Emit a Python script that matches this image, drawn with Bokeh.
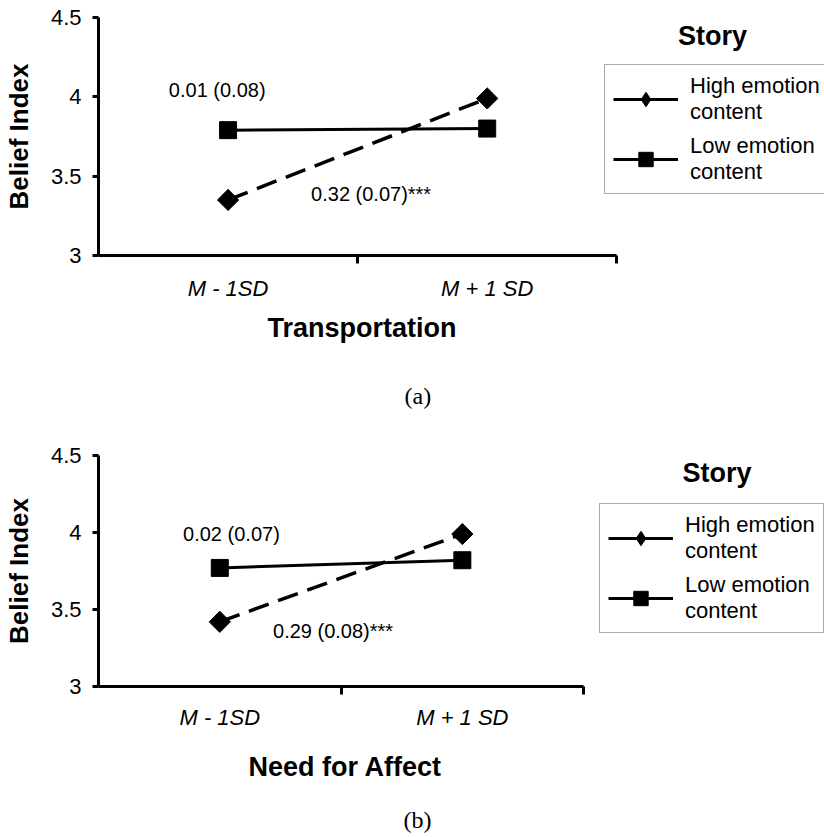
import numpy as np
from bokeh.plotting import figure
from bokeh.layouts import column
from bokeh.models import (ColumnDataSource, FixedTicker, Legend, LegendItem, Label,
                          Range1d, NumeralTickFormatter, Title)
from bokeh.core.properties import value
from bokeh.embed import file_html
from bokeh.resources import INLINE

SANS = "Liberation Sans"
SERIF = "Liberation Serif"

# ---------------- data ----------------
categories = ["M - 1SD", "M + 1 SD"]
series = ["High emotion\ncontent", "Low emotion\ncontent"]
legend_title = "Story"
y_label = "Belief Index"
y_ticks = [3, 3.5, 4, 4.5]

a_x_label = "Transportation"
a_high = [3.35, 3.99]
a_low = [3.79, 3.80]
a_slopes = ["0.01 (0.08)", "0.32 (0.07)***"]
a_slope_x = [0.458, 1.052]
a_slope_y = [4.04, 3.39]
a_caption = "(a)"

b_x_label = "Need for Affect"
b_high = [3.42, 3.99]
b_low = [3.77, 3.82]
b_slopes = ["0.02 (0.07)", "0.29 (0.08)***"]
b_slope_x = [0.548, 0.967]
b_slope_y = [3.99, 3.36]
b_caption = "(b)"

FIG_W = 824
FRAME_LEFT = 97


def panel(high, low, slopes, slope_x, slope_y, x_label, caption, height,
          slot_px, frame_h, b_top, label_standoff, legend_loc, title_xy,
          xt_offset, xt_standoff, cap_offset, cap_standoff):
    n = len(categories)
    xs = [i + 0.5 for i in range(n)]
    b_bottom = height - b_top - frame_h
    x_end = (FIG_W - FRAME_LEFT) / slot_px
    p = figure(width=FIG_W, height=height,
               x_range=Range1d(0, x_end), y_range=Range1d(y_ticks[0], y_ticks[-1]),
               output_backend="svg", toolbar_location=None,
               min_border_left=FRAME_LEFT, min_border_right=0,
               min_border_top=b_top, min_border_bottom=b_bottom)
    p.outline_line_color = None
    p.xgrid.visible = False
    p.ygrid.visible = False
    p.background_fill_color = "white"
    p.border_fill_color = "white"

    # x axis: spans the two category slots
    xa = p.xaxis[0]
    xa.bounds = (0, n)
    xa.ticker = FixedTicker(ticks=xs, minor_ticks=list(range(1, n + 1)))
    xa.major_label_overrides = {x: c for x, c in zip(xs, categories)}
    xa.major_tick_out = 0
    xa.major_tick_in = 0
    xa.minor_tick_out = 8
    xa.minor_tick_in = 0
    xa.minor_tick_line_width = 3
    xa.axis_line_width = 3
    xa.major_label_standoff = label_standoff
    xa.major_label_text_font = SANS
    xa.major_label_text_font_style = "italic"
    xa.major_label_text_font_size = "22px"
    xa.major_label_text_color = "black"

    # y axis
    ya = p.yaxis[0]
    ya.ticker = FixedTicker(ticks=y_ticks)
    ya.formatter = NumeralTickFormatter(format="0.[0]")
    ya.major_tick_out = 6
    ya.major_tick_in = 0
    ya.major_tick_line_width = 3
    ya.minor_tick_out = 0
    ya.minor_tick_in = 0
    ya.axis_line_width = 3
    ya.major_label_standoff = 11
    ya.major_label_text_font = SANS
    ya.major_label_text_font_size = "22px"
    ya.major_label_text_color = "black"
    ya.axis_label = y_label
    ya.axis_label_text_font = SANS
    ya.axis_label_text_font_style = "bold"
    ya.axis_label_text_font_size = "26px"
    ya.axis_label_text_color = "black"
    ya.axis_label_standoff = 14

    # data lines
    p.line(xs, high, line_color="black", line_width=3.5, line_dash="21 10")
    p.scatter(xs, high, marker="square", angle=np.pi / 4, size=15,
              fill_color="black", line_color="black")
    p.line(xs, low, line_color="black", line_width=3)
    p.scatter(xs, low, marker="square", size=17,
              fill_color="black", line_color="black")

    # slope annotations
    src = ColumnDataSource(dict(x=slope_x, y=slope_y, t=slopes))
    p.text(x="x", y="y", text="t", source=src, text_align="center",
           text_baseline="middle", text_font=value(SANS),
           text_font_size="20px", text_color="black")

    # legend (keys drawn with solid lines, as in the figure)
    nan = dict(x=[np.nan], y=[np.nan])
    l1 = p.line("x", "y", source=ColumnDataSource(nan), line_color="black", line_width=3)
    m1 = p.scatter("x", "y", source=ColumnDataSource(nan), marker="diamond",
                   fill_color="black", line_color="black")
    l2 = p.line("x", "y", source=ColumnDataSource(nan), line_color="black", line_width=3)
    m2 = p.scatter("x", "y", source=ColumnDataSource(nan), marker="square",
                   fill_color="black", line_color="black")
    leg = Legend(items=[LegendItem(label=value(series[0]), renderers=[l1, m1]),
                        LegendItem(label=value(series[1]), renderers=[l2, m2])],
                 location=legend_loc, orientation="vertical",
                 border_line_color="#555555", border_line_width=1,
                 background_fill_color="white", background_fill_alpha=1,
                 padding=8, spacing=8, margin=0,
                 glyph_width=65, glyph_height=36, label_standoff=12,
                 label_text_font=SANS, label_text_font_size="22px",
                 label_text_line_height=1.25, label_text_color="black")
    p.add_layout(leg)

    p.add_layout(Label(x=title_xy[0], y=title_xy[1], text=legend_title,
                       text_font=SANS, text_font_style="bold", text_font_size="27px",
                       text_align="center", text_baseline="middle", text_color="black"))

    # x-axis title and panel caption, placed under the category axis
    p.add_layout(Title(text=x_label, align="left", offset=xt_offset,
                       standoff=xt_standoff, vertical_align="top",
                       text_font=SANS, text_font_style="bold",
                       text_font_size="27px", text_color="black"), "below")
    p.add_layout(Title(text=caption, align="left", offset=cap_offset,
                       standoff=cap_standoff, vertical_align="bottom",
                       text_font=SERIF, text_font_style="normal",
                       text_font_size="24px", text_color="black"), "below")
    return p


pa = panel(a_high, a_low, a_slopes, a_slope_x, a_slope_y, a_x_label, a_caption,
           height=440, slot_px=259.5, frame_h=238, b_top=17, label_standoff=12,
           legend_loc=(506, 61), title_xy=(2.369, 4.386),
           xt_offset=169, xt_standoff=19, cap_offset=306, cap_standoff=52)
pb = panel(b_high, b_low, b_slopes, b_slope_x, b_slope_y, b_x_label, b_caption,
           height=397, slot_px=242.9, frame_h=231, b_top=15, label_standoff=10,
           legend_loc=(501, 53), title_xy=(2.55, 4.386),
           xt_offset=150, xt_standoff=38, cap_offset=305, cap_standoff=4)

layout = column(pa, pb, spacing=0)
open("out.html", "w").write(file_html(layout, INLINE))
